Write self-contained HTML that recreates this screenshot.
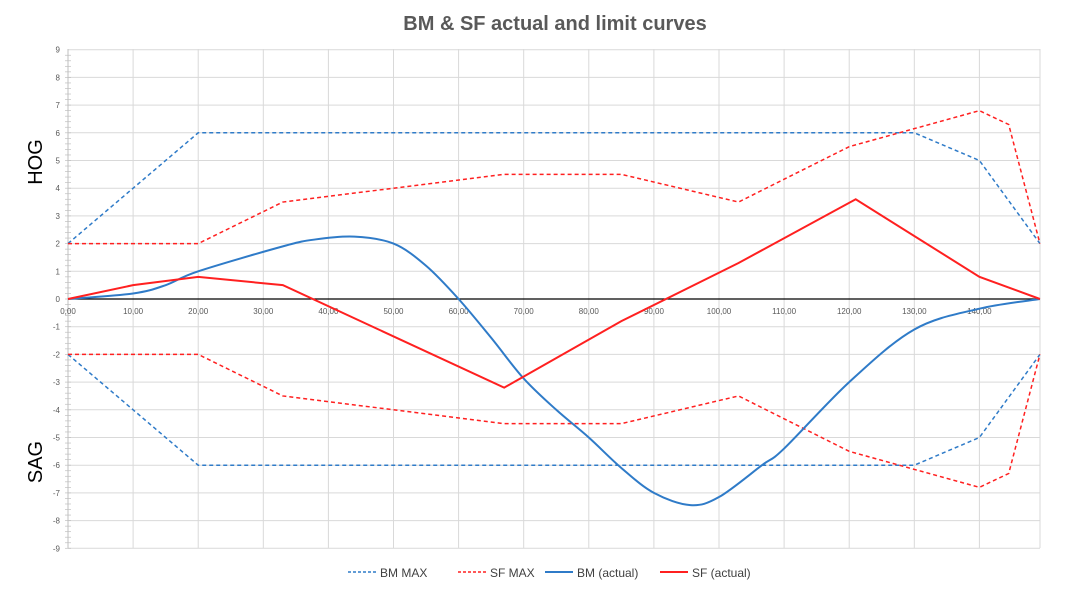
<!DOCTYPE html>
<html><head><meta charset="utf-8"><style>
body{margin:0;background:#fff;width:1083px;height:588px;overflow:hidden;font-family:"Liberation Sans",sans-serif}
</style></head><body>
<svg id="s" width="1083" height="588" xmlns="http://www.w3.org/2000/svg" font-family="Liberation Sans, sans-serif">
<text x="555" y="30" text-anchor="middle" font-size="20" font-weight="bold" fill="#595959">BM &amp; SF actual and limit curves</text>
<text transform="translate(42,162) rotate(-90)" text-anchor="middle" font-size="20" fill="#000">HOG</text>
<text transform="translate(42,462) rotate(-90)" text-anchor="middle" font-size="20" fill="#000">SAG</text>
<g id="g"></g>
<g font-size="12" fill="#404040">
<line x1="348" y1="572" x2="376" y2="572" stroke="#2f7bc8" stroke-width="1.5" stroke-dasharray="3,2"/><text x="380" y="577">BM MAX</text>
<line x1="458" y1="572" x2="486" y2="572" stroke="#ff2020" stroke-width="1.5" stroke-dasharray="3,2"/><text x="490" y="577">SF MAX</text>
<line x1="545" y1="572" x2="573" y2="572" stroke="#2f7bc8" stroke-width="2"/><text x="577" y="577">BM (actual)</text>
<line x1="660" y1="572" x2="688" y2="572" stroke="#ff2020" stroke-width="2"/><text x="692" y="577">SF (actual)</text>
</g>
</svg>
<script>
const X=x=>68+6.51*x, Y=v=>299-27.7*v;
let h='';
for(let i=0;i<=14;i++){h+=`<line x1="${X(i*10)}" y1="49" x2="${X(i*10)}" y2="548" stroke="#d9d9d9"/>`;}
h+=`<line x1="1040" y1="49" x2="1040" y2="548" stroke="#d9d9d9"/>`;
for(let v=-9;v<=9;v++){h+=`<line x1="68" y1="${Y(v)}" x2="1040" y2="${Y(v)}" stroke="#d9d9d9"/>`;
h+=`<text x="60" y="${Y(v)+3}" font-size="8" fill="#595959" text-anchor="end">${v}</text>`;}
for(let v=-9;v<9;v+=0.2){h+=`<line x1="65" y1="${Y(v)}" x2="71" y2="${Y(v)}" stroke="#bfbfbf" stroke-width="0.7"/>`;}
h+=`<line x1="68" y1="49" x2="68" y2="548" stroke="#bfbfbf"/>`;
for(let i=0;i<=14;i++){h+=`<text x="${X(i*10)}" y="314" font-size="8" fill="#595959" text-anchor="middle">${i*10},00</text>`;}
const pl=(pts,c,d,w)=>`<polyline fill="none" stroke="${c}" stroke-width="${w}" ${d?'stroke-dasharray="4,3"':''} points="${pts.map(p=>X(p[0])+','+Y(p[1])).join(' ')}"/>`;
const bm=[[0,2],[20,6],[130,6],[140,5],[149.3,2]];
const sf=[[0,2],[20,2],[33,3.5],[67,4.5],[85,4.5],[103,3.5],[120,5.5],[140,6.8],[144.5,6.3],[149.3,2]];
const neg=a=>a.map(p=>[p[0],-p[1]]);
h+=pl(bm,'#2f7bc8',1,1.5)+pl(neg(bm),'#2f7bc8',1,1.5)+pl(sf,'#ff2020',1,1.5)+pl(neg(sf),'#ff2020',1,1.5);
h+=`<line x1="68" y1="${Y(0)}" x2="1040" y2="${Y(0)}" stroke="#000" stroke-width="1.3"/>`;
const b=[[0,0],[10,0.2],[15,0.5],[20,1],[33,1.9],[38,2.15],[44,2.25],[50,2.0],[55,1.2],[60,0],[65,-1.4],[70,-2.87],[75,-4.0],[80,-5.0],[85,-6.1],[90,-7.0],[95.6,-7.44],[100,-7.15],[106.6,-6],[110,-5.4],[120,-3],[130,-1.1],[140,-0.35],[149.3,0]].map(p=>[X(p[0]),Y(p[1])]);
let d=`M${b[0][0]},${b[0][1]}`;
for(let i=0;i<b.length-1;i++){const p0=b[Math.max(0,i-1)],p1=b[i],p2=b[i+1],p3=b[Math.min(b.length-1,i+2)];
d+=` C${p1[0]+(p2[0]-p0[0])/6},${p1[1]+(p2[1]-p0[1])/6} ${p2[0]-(p3[0]-p1[0])/6},${p2[1]-(p3[1]-p1[1])/6} ${p2[0]},${p2[1]}`;}
h+=`<path d="${d}" fill="none" stroke="#2f7bc8" stroke-width="2"/>`;
h+=pl([[0,0],[10,0.5],[20,0.8],[33,0.5],[67,-3.2],[85,-0.8],[103,1.3],[121,3.6],[140,0.8],[149.3,0]],'#ff2020',0,2);
document.getElementById('g').innerHTML=h;
</script>
</body></html>
